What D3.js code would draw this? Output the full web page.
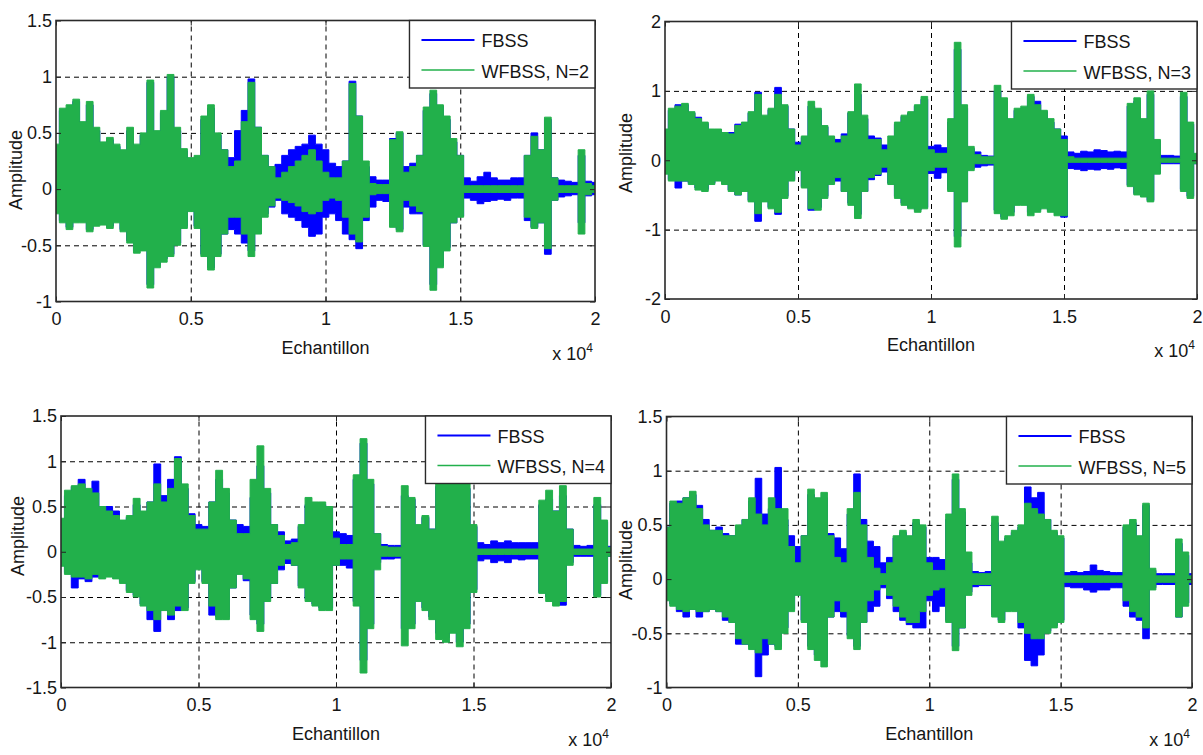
<!DOCTYPE html>
<html>
<head>
<meta charset="utf-8">
<script src="https://cdn.jsdelivr.net/npm/d3@7"></script>
<style>
  body { margin: 0; background: #fff; }
  svg text { font-family: "Liberation Sans", Arial, sans-serif; fill: #161616; }
</style>
</head>
<body>
<div id="chart"></div>
<script>
const width = 1203, height = 755;

// sample index of each envelope point (one every 250 samples)
const samples = d3.range(0, 20001, 250);

// envelopes (max / min per 250-sample block)
// --- N=2
const fbss2Hi = [0.38,0.70,0.72,0.78,0.58,0.75,0.52,0.40,0.44,0.38,0.33,0.52,0.38,0.48,0.95,0.50,0.68,1.00,0.52,0.34,0.26,
  0.28,0.62,0.72,0.48,0.35,0.28,0.52,0.70,0.98,0.55,0.30,0.20,0.22,0.30,0.35,0.38,0.40,0.48,0.40,0.35,
  0.23,0.20,0.25,0.96,0.65,0.20,0.11,0.08,0.08,0.45,0.50,0.20,0.23,0.30,0.70,0.85,0.74,0.62,0.42,0.30,
  0.10,0.07,0.11,0.15,0.10,0.08,0.08,0.10,0.10,0.30,0.50,0.35,0.62,0.10,0.08,0.07,0.06,0.30,0.07,0.06];
const fbss2Lo = [-0.20,-0.28,-0.34,-0.28,-0.28,-0.36,-0.31,-0.30,-0.33,-0.28,-0.36,-0.46,-0.55,-0.52,-0.85,-0.68,-0.62,-0.58,-0.48,-0.33,-0.18,
  -0.33,-0.58,-0.70,-0.58,-0.40,-0.36,-0.40,-0.48,-0.55,-0.38,-0.22,-0.16,-0.10,-0.22,-0.25,-0.28,-0.34,-0.42,-0.40,-0.25,
  -0.22,-0.28,-0.40,-0.45,-0.53,-0.28,-0.16,-0.10,-0.11,-0.33,-0.36,-0.16,-0.22,-0.22,-0.50,-0.85,-0.68,-0.52,-0.30,-0.24,
  -0.08,-0.10,-0.13,-0.11,-0.10,-0.09,-0.10,-0.08,-0.08,-0.28,-0.34,-0.30,-0.58,-0.10,-0.07,-0.06,-0.05,-0.30,-0.06,-0.05];
const wfbss2Hi = [0.40,0.72,0.75,0.80,0.60,0.78,0.55,0.42,0.46,0.40,0.35,0.55,0.40,0.50,0.97,0.52,0.70,1.02,0.55,0.36,0.28,
  0.30,0.65,0.75,0.50,0.35,0.20,0.25,0.60,0.95,0.55,0.30,0.20,0.10,0.15,0.20,0.25,0.30,0.35,0.25,0.15,
  0.10,0.10,0.25,0.94,0.65,0.25,0.05,0.04,0.04,0.44,0.51,0.15,0.20,0.30,0.73,0.88,0.75,0.65,0.45,0.30,
  0.03,0.03,0.03,0.03,0.03,0.03,0.03,0.03,0.03,0.30,0.47,0.35,0.64,0.10,0.03,0.03,0.03,0.35,0.05,0.03];
const wfbss2Lo = [-0.22,-0.30,-0.36,-0.30,-0.30,-0.38,-0.33,-0.32,-0.35,-0.30,-0.38,-0.48,-0.57,-0.55,-0.88,-0.70,-0.65,-0.60,-0.50,-0.35,-0.20,
  -0.35,-0.60,-0.72,-0.60,-0.40,-0.25,-0.25,-0.40,-0.60,-0.40,-0.25,-0.15,-0.08,-0.10,-0.12,-0.15,-0.20,-0.22,-0.20,-0.10,
  -0.08,-0.10,-0.25,-0.40,-0.47,-0.25,-0.05,-0.04,-0.04,-0.34,-0.38,-0.10,-0.15,-0.20,-0.51,-0.90,-0.70,-0.55,-0.30,-0.25,
  -0.03,-0.03,-0.03,-0.03,-0.03,-0.03,-0.03,-0.03,-0.03,-0.25,-0.35,-0.30,-0.53,-0.10,-0.03,-0.03,-0.03,-0.40,-0.05,-0.03];

// --- N=3
const fbss3Hi = [0.43,0.72,0.80,0.80,0.68,0.62,0.53,0.43,0.43,0.38,0.40,0.52,0.53,0.68,0.98,0.62,0.73,1.05,0.78,0.45,0.26,
  0.33,0.78,0.72,0.48,0.33,0.30,0.38,0.68,0.95,0.60,0.35,0.32,0.22,0.18,0.52,0.63,0.68,0.78,0.88,0.20,
  0.22,0.18,0.55,1.60,0.75,0.17,0.12,0.07,0.06,1.00,0.85,0.58,0.72,0.75,0.92,0.85,0.70,0.55,0.45,0.35,
  0.12,0.10,0.13,0.12,0.15,0.14,0.12,0.13,0.12,0.78,0.85,0.58,0.95,0.28,0.07,0.07,0.06,0.92,0.52,0.06];
const fbss3Lo = [-0.18,-0.28,-0.40,-0.30,-0.33,-0.40,-0.42,-0.33,-0.28,-0.33,-0.43,-0.50,-0.43,-0.58,-0.88,-0.58,-0.68,-0.78,-0.52,-0.28,-0.14,
  -0.38,-0.72,-0.68,-0.52,-0.33,-0.30,-0.45,-0.62,-0.78,-0.45,-0.28,-0.22,-0.17,-0.33,-0.52,-0.62,-0.68,-0.72,-0.68,-0.19,
  -0.26,-0.18,-0.42,-1.10,-0.58,-0.12,-0.10,-0.08,-0.07,-0.72,-0.82,-0.75,-0.62,-0.62,-0.75,-0.72,-0.68,-0.72,-0.75,-0.82,
  -0.12,-0.13,-0.15,-0.13,-0.14,-0.12,-0.13,-0.11,-0.12,-0.36,-0.48,-0.52,-0.58,-0.18,-0.05,-0.05,-0.05,-0.42,-0.52,-0.05];
const wfbss3Hi = [0.45,0.75,0.78,0.82,0.70,0.60,0.55,0.45,0.45,0.40,0.38,0.50,0.55,0.70,0.95,0.65,0.75,0.95,0.80,0.45,0.22,
  0.35,0.85,0.75,0.50,0.35,0.25,0.35,0.70,1.10,0.65,0.30,0.30,0.15,0.35,0.55,0.65,0.70,0.80,0.92,0.15,
  0.10,0.10,0.60,1.70,0.80,0.20,0.08,0.05,0.05,1.08,0.90,0.60,0.75,0.78,0.95,0.80,0.72,0.60,0.45,0.30,
  0.05,0.03,0.03,0.03,0.03,0.03,0.03,0.03,0.03,0.82,0.90,0.60,1.00,0.30,0.03,0.03,0.03,0.98,0.55,0.10];
const wfbss3Lo = [-0.20,-0.30,-0.30,-0.30,-0.35,-0.43,-0.45,-0.35,-0.30,-0.35,-0.45,-0.50,-0.45,-0.60,-0.77,-0.60,-0.70,-0.75,-0.55,-0.30,-0.15,
  -0.40,-0.70,-0.72,-0.55,-0.35,-0.25,-0.45,-0.65,-0.84,-0.45,-0.25,-0.20,-0.10,-0.35,-0.55,-0.65,-0.70,-0.75,-0.70,-0.15,
  -0.10,-0.10,-0.45,-1.25,-0.60,-0.15,-0.05,-0.05,-0.05,-0.77,-0.85,-0.80,-0.65,-0.65,-0.80,-0.75,-0.70,-0.75,-0.80,-0.80,
  -0.03,-0.03,-0.03,-0.03,-0.03,-0.03,-0.03,-0.03,-0.03,-0.38,-0.50,-0.53,-0.60,-0.20,-0.03,-0.03,-0.03,-0.45,-0.55,-0.05];

// --- N=4
const fbss4Hi = [0.33,0.62,0.72,0.80,0.68,0.78,0.48,0.50,0.45,0.33,0.38,0.52,0.42,0.55,0.97,0.62,0.80,1.05,0.70,0.42,0.30,
  0.28,0.55,0.80,0.65,0.35,0.30,0.28,0.60,0.95,0.65,0.30,0.22,0.12,0.14,0.28,0.52,0.52,0.52,0.48,0.22,
  0.20,0.18,0.80,1.20,0.75,0.20,0.08,0.07,0.07,0.62,0.58,0.28,0.38,0.25,0.72,0.80,0.78,0.72,0.70,0.28,
  0.10,0.08,0.12,0.10,0.12,0.10,0.10,0.10,0.10,0.52,0.58,0.45,0.62,0.25,0.07,0.06,0.07,0.52,0.33,0.06];
const fbss4Lo = [-0.14,-0.23,-0.40,-0.30,-0.33,-0.28,-0.28,-0.26,-0.28,-0.33,-0.43,-0.48,-0.58,-0.75,-0.88,-0.62,-0.75,-0.65,-0.62,-0.33,-0.18,
  -0.33,-0.70,-0.72,-0.72,-0.40,-0.20,-0.32,-0.70,-0.80,-0.52,-0.35,-0.20,-0.13,-0.15,-0.38,-0.52,-0.58,-0.62,-0.62,-0.15,
  -0.15,-0.18,-0.55,-1.20,-0.80,-0.12,-0.08,-0.08,-0.07,-0.85,-0.80,-0.52,-0.62,-0.72,-0.90,-0.95,-0.85,-1.00,-0.80,-0.42,
  -0.10,-0.08,-0.12,-0.10,-0.12,-0.08,-0.09,-0.08,-0.08,-0.45,-0.50,-0.55,-0.59,-0.12,-0.05,-0.05,-0.05,-0.48,-0.33,-0.05];
const wfbss4Hi = [0.37,0.68,0.73,0.75,0.70,0.65,0.50,0.45,0.40,0.35,0.40,0.59,0.45,0.55,0.75,0.55,0.70,1.03,0.75,0.40,0.25,
  0.25,0.55,0.90,0.70,0.35,0.20,0.20,0.80,1.17,0.70,0.30,0.18,0.08,0.10,0.30,0.60,0.55,0.55,0.50,0.15,
  0.08,0.08,0.85,1.25,0.80,0.20,0.06,0.05,0.05,0.73,0.60,0.30,0.40,0.25,0.75,0.85,0.80,0.75,0.75,0.30,
  0.03,0.03,0.03,0.03,0.03,0.03,0.03,0.03,0.03,0.57,0.68,0.45,0.73,0.25,0.03,0.03,0.03,0.60,0.35,0.05];
const wfbss4Lo = [-0.16,-0.25,-0.28,-0.28,-0.30,-0.25,-0.30,-0.28,-0.30,-0.35,-0.45,-0.50,-0.60,-0.65,-0.75,-0.65,-0.70,-0.60,-0.65,-0.35,-0.20,
  -0.35,-0.60,-0.75,-0.75,-0.40,-0.25,-0.30,-0.75,-0.88,-0.55,-0.35,-0.15,-0.08,-0.15,-0.40,-0.55,-0.60,-0.65,-0.65,-0.15,
  -0.08,-0.08,-0.60,-1.34,-0.85,-0.20,-0.05,-0.05,-0.05,-1.04,-0.85,-0.55,-0.65,-0.75,-0.97,-1.00,-0.90,-1.05,-0.85,-0.45,
  -0.03,-0.03,-0.03,-0.03,-0.03,-0.03,-0.03,-0.03,-0.03,-0.46,-0.55,-0.60,-0.55,-0.15,-0.03,-0.03,-0.03,-0.50,-0.35,-0.05];

// --- N=5
const fbss5Hi = [0.48,0.70,0.72,0.75,0.78,0.68,0.55,0.45,0.48,0.42,0.40,0.48,0.55,0.72,0.93,0.60,0.65,1.03,0.55,0.40,0.30,
  0.40,0.78,0.70,0.75,0.42,0.38,0.28,0.60,0.97,0.55,0.35,0.30,0.15,0.20,0.38,0.43,0.38,0.52,0.48,0.20,
  0.20,0.18,0.55,0.92,0.62,0.15,0.07,0.06,0.07,0.52,0.33,0.38,0.43,0.48,0.85,0.75,0.80,0.55,0.43,0.38,
  0.06,0.07,0.06,0.07,0.13,0.08,0.07,0.06,0.06,0.48,0.52,0.38,0.68,0.08,0.05,0.05,0.05,0.33,0.22,0.05];
const fbss5Lo = [-0.18,-0.23,-0.30,-0.35,-0.28,-0.35,-0.30,-0.28,-0.30,-0.38,-0.40,-0.60,-0.60,-0.62,-0.90,-0.70,-0.60,-0.62,-0.45,-0.28,-0.14,
  -0.38,-0.62,-0.70,-0.75,-0.35,-0.30,-0.35,-0.52,-0.62,-0.40,-0.30,-0.25,-0.08,-0.18,-0.30,-0.38,-0.42,-0.45,-0.45,-0.20,
  -0.30,-0.25,-0.38,-0.62,-0.45,-0.12,-0.07,-0.06,-0.06,-0.33,-0.38,-0.28,-0.28,-0.45,-0.75,-0.80,-0.70,-0.48,-0.43,-0.38,
  -0.07,-0.08,-0.08,-0.10,-0.12,-0.10,-0.10,-0.08,-0.08,-0.25,-0.35,-0.38,-0.55,-0.08,-0.05,-0.05,-0.05,-0.35,-0.22,-0.05];
const wfbss5Hi = [0.48,0.72,0.70,0.75,0.81,0.65,0.50,0.45,0.45,0.40,0.40,0.50,0.55,0.75,0.60,0.50,0.75,0.65,0.65,0.30,0.15,
  0.40,0.83,0.75,0.80,0.40,0.20,0.15,0.65,0.80,0.50,0.20,0.10,0.05,0.15,0.40,0.45,0.40,0.55,0.50,0.15,
  0.08,0.08,0.60,0.97,0.65,0.25,0.05,0.05,0.05,0.58,0.35,0.40,0.45,0.50,0.70,0.65,0.60,0.55,0.45,0.40,
  0.03,0.03,0.03,0.03,0.03,0.03,0.03,0.03,0.03,0.50,0.55,0.40,0.70,0.10,0.03,0.03,0.03,0.37,0.25,0.03];
const wfbss5Lo = [-0.20,-0.25,-0.28,-0.30,-0.28,-0.30,-0.30,-0.28,-0.30,-0.35,-0.40,-0.55,-0.60,-0.65,-0.68,-0.55,-0.60,-0.65,-0.50,-0.30,-0.15,
  -0.40,-0.65,-0.75,-0.81,-0.35,-0.20,-0.30,-0.55,-0.65,-0.40,-0.20,-0.10,-0.05,-0.15,-0.25,-0.35,-0.40,-0.40,-0.30,-0.15,
  -0.10,-0.08,-0.40,-0.66,-0.45,-0.15,-0.05,-0.05,-0.05,-0.35,-0.40,-0.30,-0.30,-0.40,-0.50,-0.55,-0.55,-0.50,-0.45,-0.40,
  -0.03,-0.03,-0.03,-0.03,-0.03,-0.03,-0.03,-0.03,-0.03,-0.20,-0.30,-0.35,-0.45,-0.10,-0.03,-0.03,-0.03,-0.35,-0.25,-0.03];

// ticks and labels
const xTicks = [0, 5000, 10000, 15000, 20000];
const yTicksA = [-1, -0.5, 0, 0.5, 1, 1.5];
const yTicksB = [-2, -1, 0, 1, 2];
const yTicksC = [-1.5, -1, -0.5, 0, 0.5, 1, 1.5];
const seriesNames = ["FBSS", "WFBSS"];
const orders = [2, 3, 4, 5];

const blue = "#0000ff", green = "#22b04b";
const fontSize = 18;

// panel layout: box = [left, top, width, height]
const panels = [
  { box: [56, 20.5, 539, 281], yDomain: [-1, 1.5], yTicks: yTicksA, fb: [fbss2Hi, fbss2Lo], wf: [wfbss2Hi, wfbss2Lo], yLab: [22, 170] },
  { box: [665, 21.5, 532, 277.5], yDomain: [-2, 2], yTicks: yTicksB, fb: [fbss3Hi, fbss3Lo], wf: [wfbss3Hi, wfbss3Lo], yLab: [632, 153] },
  { box: [61, 416, 550, 271.5], yDomain: [-1.5, 1.5], yTicks: yTicksC, fb: [fbss4Hi, fbss4Lo], wf: [wfbss4Hi, wfbss4Lo], yLab: [24, 536] },
  { box: [666.5, 416.5, 525.5, 271], yDomain: [-1, 1.5], yTicks: yTicksA, fb: [fbss5Hi, fbss5Lo], wf: [wfbss5Hi, wfbss5Lo], yLab: [632, 560] }
];

const svg = d3.select("#chart").append("svg")
  .attr("width", width).attr("height", height);
svg.append("rect").attr("width", width).attr("height", height).attr("fill", "#fff");

panels.forEach((p, i) => {
  const [px, py, pw, ph] = p.box;
  const x = d3.scaleLinear().domain([0, 20000]).range([px, px + pw]);
  const y = d3.scaleLinear().domain(p.yDomain).range([py + ph, py]);
  const g = svg.append("g");

  g.append("clipPath").attr("id", `clip${i}`)
    .append("rect").attr("x", px).attr("y", py).attr("width", pw).attr("height", ph);

  // dashed grid (under the data)
  const grid = g.append("g").attr("class", "grid");
  grid.append("g")
    .attr("transform", `translate(0,${py + ph})`)
    .call(d3.axisBottom(x).tickValues(xTicks.slice(1, -1)).tickSize(-ph).tickFormat(""));
  grid.append("g")
    .attr("transform", `translate(${px},0)`)
    .call(d3.axisLeft(y).tickValues(p.yTicks.slice(1, -1)).tickSize(-pw).tickFormat(""));
  grid.selectAll(".domain").remove();
  grid.selectAll("line").attr("stroke", "#000").attr("stroke-width", 1).attr("stroke-dasharray", "5,4");

  // waveforms: FBSS behind, WFBSS on top
  const envelope = (hi, lo) => d3.area()
    .curve(d3.curveStep)
    .x((d, j) => x(samples[j]))
    .y0((d, j) => y(lo[j]))
    .y1((d, j) => y(hi[j]));

  const wave = g.append("g").attr("clip-path", `url(#clip${i})`);
  wave.append("path").datum(p.fb[0])
    .attr("d", envelope(p.fb[0], p.fb[1]))
    .attr("fill", blue).attr("stroke", blue).attr("stroke-width", 1);
  wave.append("path").datum(p.wf[0])
    .attr("d", envelope(p.wf[0], p.wf[1]))
    .attr("fill", green).attr("stroke", green).attr("stroke-width", 1);

  // axes with inward ticks
  const ax = g.append("g").attr("class", "axes");
  ax.append("g")
    .attr("transform", `translate(0,${py + ph})`)
    .call(d3.axisBottom(x).tickValues(xTicks).tickSize(-5).tickPadding(11).tickFormat(d => String(d / 10000)));
  ax.append("g")
    .attr("transform", `translate(${px},0)`)
    .call(d3.axisLeft(y).tickValues(p.yTicks).tickSize(-5).tickPadding(4).tickFormat(d => String(d)));
  ax.append("g")
    .attr("transform", `translate(0,${py})`)
    .call(d3.axisTop(x).tickValues(xTicks).tickSize(-5).tickFormat(""));
  ax.append("g")
    .attr("transform", `translate(${px + pw},0)`)
    .call(d3.axisRight(y).tickValues(p.yTicks).tickSize(-5).tickFormat(""));
  ax.selectAll(".domain").remove();
  ax.selectAll("line").attr("stroke", "#222");
  ax.selectAll("text").attr("font-size", fontSize).attr("fill", "#161616").attr("font-family", null);

  g.append("rect")
    .attr("x", px).attr("y", py).attr("width", pw).attr("height", ph)
    .attr("fill", "none").attr("stroke", "#2a2a2a").attr("stroke-width", 1.6);

  // axis labels
  g.append("text")
    .attr("x", px + pw / 2).attr("y", py + ph + 52)
    .attr("text-anchor", "middle").attr("font-size", fontSize)
    .text("Echantillon");
  g.append("text")
    .attr("transform", `translate(${p.yLab[0]},${p.yLab[1]}) rotate(-90)`)
    .attr("text-anchor", "middle").attr("font-size", fontSize)
    .text("Amplitude");

  const mult = g.append("text")
    .attr("x", px + pw - 2).attr("y", py + ph + 58)
    .attr("text-anchor", "end").attr("font-size", fontSize);
  mult.append("tspan").text("x 10");
  mult.append("tspan").attr("font-size", 12).attr("dy", -8).text("4");

  // legend
  const names = [seriesNames[0], `${seriesNames[1]}, N=${orders[i]}`];
  const leg = g.append("g");
  const box = leg.append("rect").attr("fill", "#fff").attr("stroke", "#2a2a2a").attr("stroke-width", 1.4);
  const rows = leg.selectAll("g.row").data(names).join("g").attr("class", "row");
  rows.append("line")
    .attr("x1", 12).attr("x2", 65)
    .attr("y1", (d, k) => 19.5 + k * 30).attr("y2", (d, k) => 19.5 + k * 30)
    .attr("stroke", (d, k) => k ? green : blue)
    .attr("stroke-width", (d, k) => k ? 1.5 : 2);
  const labels = rows.append("text")
    .attr("x", 72).attr("y", (d, k) => 26.5 + k * 30.5)
    .attr("font-size", fontSize)
    .text(d => d);
  const tw = d3.max(labels.nodes(), n => n.getComputedTextLength());
  const lw = 72 + tw + 6, lh = 67.5;
  leg.attr("transform", `translate(${px + pw - lw},${py})`);
  box.attr("width", lw).attr("height", lh);
});
</script>
</body>
</html>
